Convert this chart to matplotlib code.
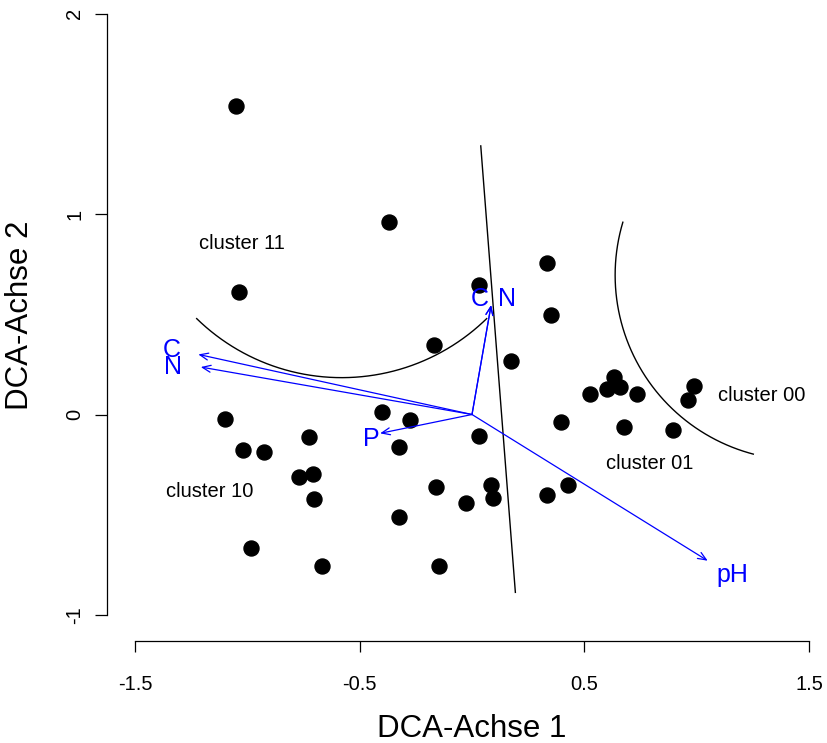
import numpy as np
import matplotlib
matplotlib.use("Agg")
import matplotlib.pyplot as plt

plt.rcParams['font.family'] = ['Liberation Sans', 'DejaVu Sans']
plt.rcParams['axes.unicode_minus'] = False

##### Site scores (DCA axis 1 / axis 2) ###############################
site_x = [-1.049, -0.368, -1.035, 0.031, 0.334, 0.352, -0.169, 0.174,
          -1.098, -1.018, -0.924, -0.724, -0.399, -0.275, -0.324, 0.029,
          -0.770, -0.708, -0.703, -0.160, -0.025, 0.085, 0.092, -0.324,
          -0.982, -0.667, -0.147, 0.334, 0.427, 0.397, 0.526, 0.599,
          0.630, 0.660, 0.736, 0.678, 0.896, 0.963, 0.988]
site_y = [1.540, 0.960, 0.614, 0.649, 0.756, 0.497, 0.345, 0.267,
          -0.024, -0.179, -0.189, -0.114, 0.015, -0.029, -0.162, -0.107,
          -0.313, -0.298, -0.422, -0.364, -0.443, -0.352, -0.417, -0.513,
          -0.666, -0.756, -0.756, -0.402, -0.350, -0.036, 0.101, 0.129,
          0.189, 0.136, 0.102, -0.062, -0.076, 0.074, 0.142]

##### Fitted environmental vectors ####################################
vec_names = ["C", "N", "C", "N", "P", "pH"]
vec_x = [0.085, 0.085, -1.218, -1.207, -0.409, 1.049]
vec_y = [0.546, 0.546, 0.300, 0.237, -0.094, -0.730]
lab_x = [0.036, 0.154, -1.336, -1.329, -0.446, 1.157]
lab_y = [0.575, 0.575, 0.322, 0.239, -0.122, -0.800]

##### Cluster labels ##################################################
cl_names = ["cluster 11", "cluster 10", "cluster 01", "cluster 00"]
cl_x = [-1.025, -1.166, 0.789, 1.289]
cl_y = [0.856, -0.385, -0.244, 0.097]

##### Cluster boundaries ##############################################
split_x = [0.039, 0.193]
split_y = [1.341, -0.888]
# (centre x, centre y, radius x, radius y, start deg, end deg)
arcs = [(-0.580, 1.221, 0.924, 1.037, 225.7, 314.3),
        (1.461, 0.696, 0.824, 0.924, 163.4, 255.3)]

##### Create plot #####################################################
fig = plt.figure(figsize=(8.27, 7.43), dpi=100)
ax = fig.add_axes([0, 0, 1, 1])
ax.set_xlim(-2.1006, 1.5799)
ax.set_ylim(-1.640, 2.0694)

ax.plot(site_x, site_y, 'o', color='black', markersize=10.8, zorder=3)

ax.plot(split_x, split_y, color='black', lw=1.0)
for cx, cy, rx, ry, a0, a1 in arcs:
    t = np.radians(np.linspace(a0, a1, 200))
    ax.plot(cx + rx * np.cos(t), cy + ry * np.sin(t), color='black', lw=1.0)

for vx, vy in zip(vec_x, vec_y):
    ax.annotate('', xy=(vx, vy), xytext=(0, 0),
                arrowprops=dict(arrowstyle='->,head_length=0.6,head_width=0.25',
                                color='#0000FF', lw=0.9, shrinkA=0, shrinkB=0))
for name, lx, ly in zip(vec_names, lab_x, lab_y):
    ax.text(lx, ly, name, color='#0000FF', fontsize=18, ha='center', va='center')

for name, cx, cy in zip(cl_names, cl_x, cl_y):
    ax.text(cx, cy, name, fontsize=14.5, ha='center', va='center')

##### Axes in R style #################################################
for s in ['top', 'right']:
    ax.spines[s].set_visible(False)
ax.spines['left'].set_position(('data', -1.6224))
ax.spines['left'].set_bounds(-1, 2)
ax.spines['bottom'].set_position(('data', -1.132))
ax.spines['bottom'].set_bounds(-1.5, 1.5)
for s in ['left', 'bottom']:
    ax.spines[s].set_linewidth(0.9)

ax.set_xticks([-1.5, -0.5, 0.5, 1.5])
ax.set_xticklabels(['-1.5', '-0.5', '0.5', '1.5'])
ax.set_yticks([-1, 0, 1, 2])
ax.set_yticklabels(['-1', '0', '1', '2'])
ax.tick_params(axis='x', length=8, width=0.9, pad=16, labelsize=14.5)
ax.tick_params(axis='y', length=8.6, width=0.9, pad=8, labelsize=14.5,
               labelrotation=90)
for lab in ax.get_yticklabels():
    lab.set_va('center')

fig.text(472 / 827, 1 - 737 / 743, 'DCA-Achse 1', fontsize=22.5,
         ha='center', va='baseline')
fig.text(28 / 827, 1 - 315 / 743, 'DCA-Achse 2', fontsize=22.5,
         ha='center', va='baseline', rotation=90, rotation_mode='anchor')

plt.savefig('out.png', dpi=100)
